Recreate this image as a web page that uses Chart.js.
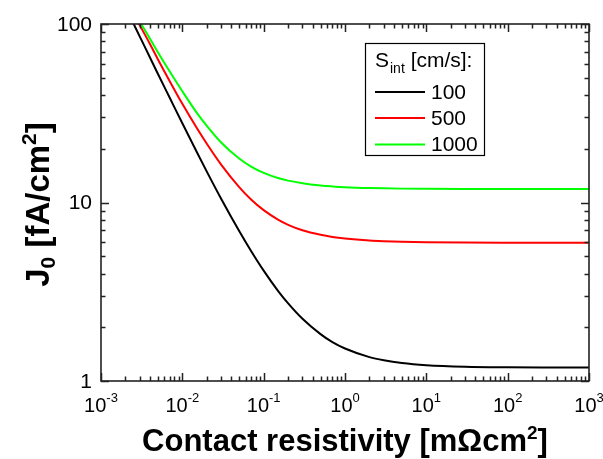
<!DOCTYPE html>
<html>
<head>
<meta charset="utf-8">
<script src="https://cdn.jsdelivr.net/npm/chart.js@4/dist/chart.umd.min.js"></script>
<style>
html,body{margin:0;padding:0;background:#fff;}
#wrap{position:relative;width:603px;height:459px;}
</style>
</head>
<body>
<div id="wrap"><canvas id="c" width="603" height="459"></canvas></div>
<script>
// Data
const contactResistivity = [0.0025, 0.003, 0.004, 0.005, 0.007, 0.01, 0.015, 0.02, 0.03, 0.05, 0.07, 0.1, 0.15, 0.2, 0.3, 0.5, 0.7, 1, 2, 3, 5, 10, 30, 100, 300, 1000];
const j0_S100  = [100.9, 85.0, 64.9, 52.6, 38.6, 27.8, 19.25, 14.9, 10.5, 6.92, 5.35, 4.15, 3.2, 2.72, 2.23, 1.83, 1.65, 1.52, 1.36, 1.306, 1.261, 1.227, 1.203, 1.194, 1.191, 1.19];
const j0_S500  = [113.6, 98.1, 77.3, 63.5, 47.8, 35.7, 26.2, 21.33, 16.3, 12.2, 10.4, 9.06, 8.02, 7.5, 6.99, 6.59, 6.41, 6.28, 6.12, 6.066, 6.02, 5.987, 5.963, 5.954, 5.951, 5.95];
const j0_S1000 = [119.6, 103.2, 82.6, 69.5, 54.2, 42.0, 31.9, 26.9, 21.7, 17.63, 15.89, 14.65, 13.71, 13.26, 12.82, 12.46, 12.31, 12.19, 12.05, 12.0, 11.96, 11.93, 11.91, 11.904, 11.9, 11.9];
const seriesLabels = ['100', '500', '1000'];
const seriesColors = ['#000000', '#ff0000', '#00ff00'];
const xTickExponents = [-3, -2, -1, 0, 1, 2, 3];
const yTickValues = [1, 10, 100];
const yTickLabels = ['1', '10', '100'];
const legendTitle = ['S', 'int', ' [cm/s]:'];
const xTitle = ['Contact resistivity [m\u03A9cm', '2', ']'];
const yTitle = ['J', '0', ' [fA/cm', '2', ']'];

const FONT = '"Liberation Sans", Arial, Helvetica, sans-serif';

function toPts(ys){ return contactResistivity.map((x,i)=>({x:x, y:ys[i]})); }
const allSeries = [j0_S100, j0_S500, j0_S1000];

const axesPlugin = {
  id: 'originAxes',
  afterDatasetsDraw(chart){
    const ctx = chart.ctx;
    const a = chart.chartArea;
    const xs = chart.scales.x, ys = chart.scales.y;
    ctx.save();
    ctx.strokeStyle = '#222';
    ctx.lineWidth = 1.5;
    const maj = 8, mnr = 4.5;
    ctx.beginPath();
    for (let e = -3; e <= 3; e++) {
      for (let m = 1; m <= 9; m++) {
        const v = m * Math.pow(10, e);
        if (v > 1000.0001) break;
        const px = Math.round(xs.getPixelForValue(v)) + 0.5;
        const L = (m === 1) ? maj : mnr;
        ctx.moveTo(px, a.bottom); ctx.lineTo(px, a.bottom - L);
        ctx.moveTo(px, a.top); ctx.lineTo(px, a.top + L);
      }
    }
    for (let e = 0; e <= 2; e++) {
      for (let m = 1; m <= 9; m++) {
        const v = m * Math.pow(10, e);
        if (v > 100.0001) break;
        const py = Math.round(ys.getPixelForValue(v)) + 0.5;
        const L = (m === 1) ? maj : mnr;
        ctx.moveTo(a.left, py); ctx.lineTo(a.left + L, py);
        ctx.moveTo(a.right, py); ctx.lineTo(a.right - L, py);
      }
    }
    ctx.stroke();
    ctx.lineWidth = 1.6;
    ctx.strokeRect(a.left, a.top, a.right - a.left, a.bottom - a.top);

    ctx.fillStyle = '#000';
    ctx.textBaseline = 'alphabetic';
    ctx.textAlign = 'left';
    xTickExponents.forEach(e => {
      const px = xs.getPixelForValue(Math.pow(10, e));
      ctx.font = '20px ' + FONT;
      const wb = ctx.measureText('10').width;
      ctx.font = '13px ' + FONT;
      const sup = String(e);
      const ws = ctx.measureText(sup).width;
      const x0 = px - (wb + ws) / 2;
      ctx.font = '20px ' + FONT;
      ctx.fillText('10', x0, 412);
      ctx.font = '13px ' + FONT;
      ctx.fillText(sup, x0 + wb, 402);
    });
    ctx.font = '21px ' + FONT;
    ctx.textAlign = 'right';
    ctx.textBaseline = 'middle';
    yTickValues.forEach((v, i) => {
      const py = ys.getPixelForValue(v);
      ctx.fillText(yTickLabels[i], 92, py + 1);
    });

    // x title
    ctx.textBaseline = 'alphabetic';
    ctx.textAlign = 'left';
    const bigB = 'bold 31px ' + FONT, supB = 'bold 19px ' + FONT;
    ctx.font = bigB; const w1 = ctx.measureText(xTitle[0]).width;
    ctx.font = supB; const w2 = ctx.measureText(xTitle[1]).width;
    ctx.font = bigB; const w3 = ctx.measureText(xTitle[2]).width;
    let xx = (a.left + a.right) / 2 - (w1 + w2 + w3) / 2;
    const by = 451;
    ctx.font = bigB; ctx.fillText(xTitle[0], xx, by); xx += w1;
    ctx.font = supB; ctx.fillText(xTitle[1], xx, by - 12); xx += w2;
    ctx.font = bigB; ctx.fillText(xTitle[2], xx, by);

    // y title (rotated)
    const yB = 'bold 33px ' + FONT, ySB = 'bold 21px ' + FONT;
    ctx.save();
    ctx.translate(49, (a.top + a.bottom) / 2 + 2);
    ctx.rotate(-Math.PI / 2);
    const parts = [
      {t: yTitle[0], f: yB, dy: 0},
      {t: yTitle[1], f: ySB, dy: 6},
      {t: yTitle[2], f: yB, dy: 0},
      {t: yTitle[3], f: ySB, dy: -13},
      {t: yTitle[4], f: yB, dy: 0}
    ];
    let tw = 0;
    parts.forEach(p => { ctx.font = p.f; p.w = ctx.measureText(p.t).width; tw += p.w; });
    let yx = -tw / 2;
    parts.forEach(p => { ctx.font = p.f; ctx.fillText(p.t, yx, p.dy); yx += p.w; });
    ctx.restore();

    // legend
    ctx.lineWidth = 1.2;
    ctx.strokeStyle = '#000';
    ctx.strokeRect(365.5, 43.5, 119, 112);
    const lf = '21px ' + FONT, lsf = '14px ' + FONT;
    ctx.textAlign = 'left';
    ctx.textBaseline = 'alphabetic';
    let lx = 375;
    ctx.font = lf; ctx.fillText(legendTitle[0], lx, 67); lx += ctx.measureText(legendTitle[0]).width + 1;
    ctx.font = lsf; ctx.fillText(legendTitle[1], lx, 73); lx += ctx.measureText(legendTitle[1]).width;
    ctx.font = lf; ctx.fillText(legendTitle[2], lx, 67);
    const rowY = [92, 118, 144.5];
    chart.data.datasets.forEach((ds, i) => {
      ctx.strokeStyle = ds.borderColor;
      ctx.lineWidth = 2;
      ctx.beginPath();
      ctx.moveTo(375, rowY[i]); ctx.lineTo(425, rowY[i]);
      ctx.stroke();
      ctx.font = lf;
      ctx.textBaseline = 'middle';
      ctx.fillText(ds.label, 431, rowY[i] + 1);
    });
    ctx.restore();
  }
};

new Chart(document.getElementById('c'), {
  type: 'scatter',
  data: {
    datasets: allSeries.map((s, i) => ({
      label: seriesLabels[i],
      data: toPts(s),
      showLine: true,
      borderColor: seriesColors[i],
      backgroundColor: seriesColors[i],
      borderWidth: 2,
      pointRadius: 0,
      cubicInterpolationMode: 'monotone',
      fill: false
    }))
  },
  options: {
    responsive: false,
    animation: false,
    devicePixelRatio: 1,
    layout: { padding: { left: 101, right: 14, top: 24, bottom: 78 } },
    plugins: { legend: { display: false }, tooltip: { enabled: false } },
    scales: {
      x: { type: 'logarithmic', min: 0.001, max: 1000, display: false },
      y: { type: 'logarithmic', min: 1, max: 100, display: false }
    }
  },
  plugins: [axesPlugin]
});
</script>
</body>
</html>
